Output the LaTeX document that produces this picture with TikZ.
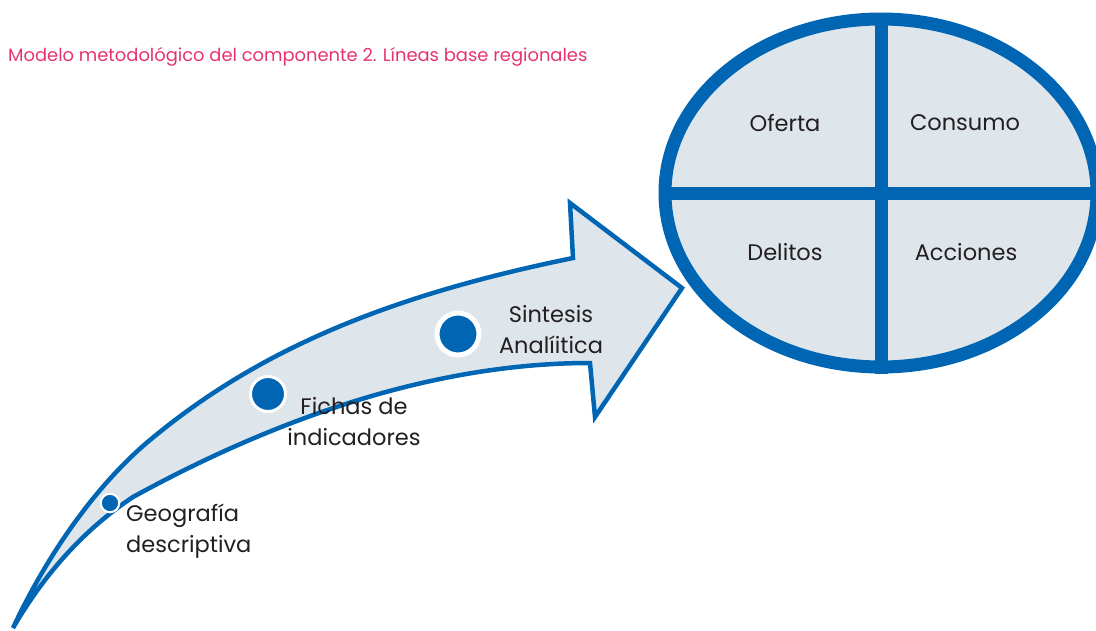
\documentclass[tikz,border=0pt]{standalone}
\usepackage{fontspec}
\setmainfont{Poppins}
\usetikzlibrary{shapes.geometric}
\definecolor{bl}{HTML}{0066B3}
\definecolor{fl}{HTML}{DEE6EC}
\definecolor{tp}{HTML}{E6336F}
\definecolor{tx}{HTML}{231F20}
\begin{document}
\begin{tikzpicture}[x=1pt,y=-1pt,
  lbl/.style={text=tx, font=\fontsize{22.5}{31}\selectfont, inner sep=0pt},
  dot/.style={circle, fill=bl, draw=white, inner sep=0pt},
  bar/.style={draw=bl, line width=13pt}]
\useasboundingbox (0,0) rectangle (1096,630);
\clip (0,0) rectangle (1096,630);
% title
\node[anchor=west, text=tp, font=\fontsize{17.9}{20}\selectfont, inner sep=0pt] (title) at (8,57) {Modelo metodológico del componente 2. Líneas base regionales};
% curved arrow
\draw[line width=4.5pt, draw=bl, fill=fl, line join=miter]
  (13,628) .. controls (47,555) and (96,485) .. (150,440)
  .. controls (258,350) and (387,296) .. (573,258)
  -- (570,203) -- (682,288) -- (595,417) -- (590,363)
  .. controls (425,363) and (264,425) .. (133,497)
  .. controls (83,530) and (43,576) .. cycle;
% dots
\node[dot, line width=2pt, minimum size=18.5pt] (d1) at (110,503) {};
\node[dot, line width=3pt, minimum size=35pt] (d2) at (268,394) {};
\node[dot, line width=5pt, minimum size=42pt] (d3) at (458,334) {};
% labels
\node[lbl, anchor=west, align=left] (geo) at (126,531) {Geografía\\descriptiva};
\node[lbl, align=center] (fic) at (354,422) {Fichas de\\indicadores};
\node[lbl, align=center] (sin) at (551,330) {Sintesis\\Analíitica};
% ellipse
\node[ellipse, draw=bl, fill=fl, line width=13pt, minimum width=432pt, minimum height=348pt, inner sep=0pt] (ell) at (881,193) {};
\draw[bar] (ell.north) -- (ell.south);
\draw[bar] (ell.west) -- (ell.east);
\node[lbl] (ofe) at (785,123) {Oferta};
\node[lbl] (con) at (965,123) {Consumo};
\node[lbl] (del) at (785,252) {Delitos};
\node[lbl] (acc) at (966,252) {Acciones};
\end{tikzpicture}
\end{document}
